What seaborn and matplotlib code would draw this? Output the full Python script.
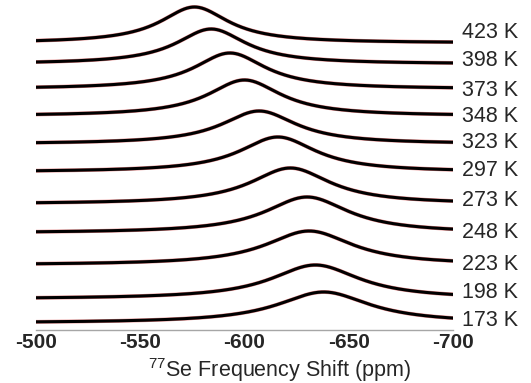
import matplotlib
matplotlib.use("Agg")
import matplotlib.pyplot as plt
import numpy as np
import seaborn as sns
import pandas as pd

# temperatures (K), top trace first
temps = [423, 398, 373, 348, 323, 297, 273, 248, 223, 198, 173]
# peak position (ppm)
centers = [-576, -584, -593, -600, -607, -616, -622, -630, -631, -634, -638]
# full width at half height (ppm)
fwhm = [40, 41, 42, 43, 44, 45, 47, 49, 51, 52, 54]
# peak height above baseline (arb. units)
heights = [36, 35, 36, 36, 33, 35, 36, 36, 34, 34, 31]
# vertical stacking offset of each trace (arb. units)
offsets = [287, 266, 241, 214, 186, 158, 126, 97, 65, 31, 7]

ppm = np.linspace(-500, -700, 801)

rows = []
for t, c, w, h, off in zip(temps, centers, fwhm, heights, offsets):
    hw = w / 2.0
    spec = h / (1.0 + ((ppm - c) / hw) ** 2)   # lorentzian fit shape
    for x, y in zip(ppm, spec + off):
        rows.append({"ppm": x, "y": y, "T": f"{t} K"})
df = pd.DataFrame(rows)

sns.set_style("white")
plt.rcParams["font.family"] = ["Liberation Sans", "DejaVu Sans"]
plt.rcParams["mathtext.fontset"] = "custom"
plt.rcParams["mathtext.rm"] = "Liberation Sans"
plt.rcParams["mathtext.it"] = "Liberation Sans:italic"
plt.rcParams["axes.unicode_minus"] = False

fig = plt.figure(figsize=(5.31, 3.83), dpi=100)
ax = fig.add_axes([36 / 531, 53 / 383, 417 / 531, 330 / 383])

n = len(temps)
sns.lineplot(data=df, x="ppm", y="y", hue="T", palette=["#d23c3c"] * n,
             legend=False, estimator=None, sort=False, lw=2.8, alpha=0.6, ax=ax)
sns.lineplot(data=df, x="ppm", y="y", hue="T", palette=["black"] * n,
             legend=False, estimator=None, sort=False, lw=2.2, ax=ax)

# temperature labels at the right end of each trace
label_y = [298, 270, 240, 213, 187, 159, 130, 97, 66, 37, 10]
for t, ly in zip(temps, label_y):
    ax.text(-704.3, ly, f"{t} K", ha="left", va="center", fontsize=15.5,
            clip_on=False)

ax.set_xlim(-500, -700)
ax.set_ylim(0, 330)
ax.set_yticks([])
ax.set_ylabel("")
for s in ["top", "left", "right"]:
    ax.spines[s].set_visible(False)
ax.spines["bottom"].set_color("#a6a6a6")
ax.spines["bottom"].set_linewidth(1.0)

ax.set_xticks([-500, -550, -600, -650, -700])
ax.set_xticks([-525, -575, -625, -675], minor=True)
ax.tick_params(axis="x", which="both", direction="in", color="#a6a6a6",
               length=3, width=1, pad=2.5)
ax.tick_params(axis="x", which="major", labelsize=15)
for lab in ax.get_xticklabels():
    lab.set_fontweight("bold")

ax.set_xlabel("$^{77}$Se Frequency Shift (ppm)", fontsize=15.5)
ax.xaxis.set_label_coords(0.585, -0.078)
ax.xaxis.label.set_va("top")

plt.savefig("out.png", dpi=100)
